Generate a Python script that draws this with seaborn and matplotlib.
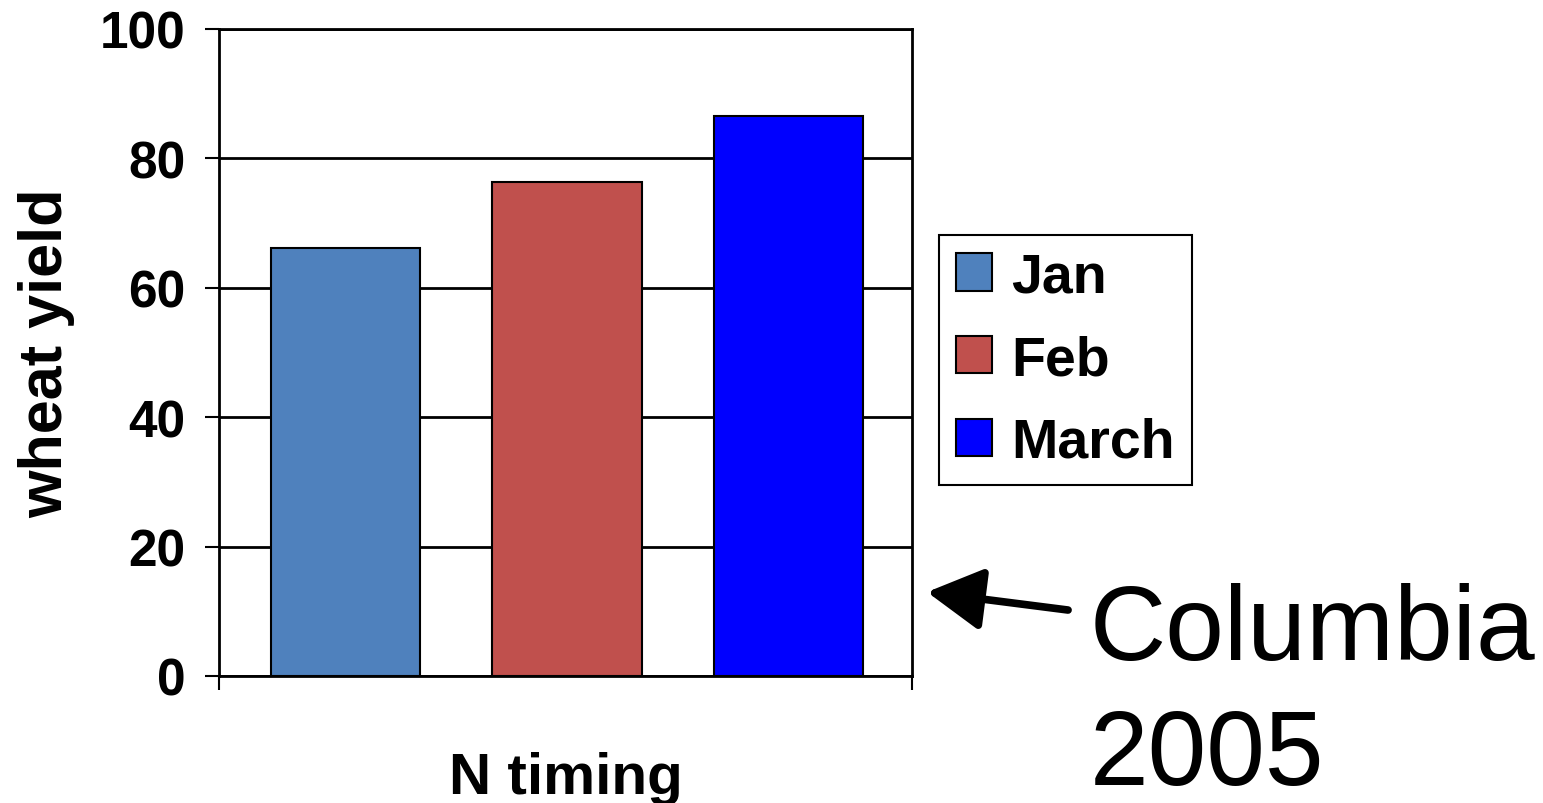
import pandas as pd
import numpy as np
import seaborn as sns
import matplotlib.pyplot as plt

# data
months = ["Jan", "Feb", "March"]
yields = [66.2, 76.3, 86.6]
colors = ["#4F81BD", "#C0504D", "#0000FF"]
yticks = [0, 20, 40, 60, 80, 100]

df = pd.DataFrame({"month": months, "wheat yield": yields})

sns.set_theme(style="white")
plt.rcParams["font.family"] = ["Liberation Sans", "DejaVu Sans"]
plt.rcParams["font.weight"] = "bold"
plt.rcParams["text.color"] = "black"
plt.rcParams["axes.labelcolor"] = "black"
plt.rcParams["xtick.color"] = "black"
plt.rcParams["ytick.color"] = "black"

fig = plt.figure(figsize=(15.43, 8.04), dpi=100)
ax = fig.add_axes([0.1419, 0.158, 0.4492, 0.8047])

sns.barplot(data=df, x="month", y="wheat yield", hue="month",
            palette=colors, saturation=1, width=0.673, edgecolor="black",
            linewidth=1.5, dodge=False, legend=True, ax=ax, zorder=3)

# axes
ax.set_ylim(0, 100)
ax.set_xlim(-0.571, 2.557)
ax.set_yticks(yticks)
ax.set_yticklabels([str(t) for t in yticks], fontsize=37, fontweight="bold")
ax.set_xticks([-0.571, 2.557])
ax.set_xticklabels(["", ""])
ax.tick_params(axis="both", direction="out", length=10, width=1.5, color="black",
               left=True, bottom=True, pad=14)
ax.yaxis.grid(True, color="black", linewidth=2, zorder=0)
ax.set_axisbelow(True)
for s in ax.spines.values():
    s.set_color("black")
    s.set_linewidth(2)
ax.set_ylabel("wheat yield", fontsize=44, fontweight="bold", labelpad=18)
ax.set_xlabel("N timing", fontsize=42, fontweight="bold", labelpad=30)

# legend
sns.move_legend(ax, "upper left", bbox_to_anchor=(1.039, 0.6816), borderaxespad=0,
                title=None, frameon=True, fancybox=False, framealpha=1,
                fontsize=40, handlelength=0.66, handleheight=0.66,
                handletextpad=0.34, labelspacing=0.55, borderpad=0.3)
leg = ax.get_legend()
leg.get_frame().set_edgecolor("black")
leg.get_frame().set_linewidth(1.5)
for t in leg.get_texts():
    t.set_fontweight("bold")
    t.set_color("black")

# annotation
fig.text(0.7064, 0.179, "Columbia", fontsize=76, fontweight="normal",
         va="baseline", color="black")
fig.text(0.7064, 0.0236, "2005", fontsize=76, fontweight="normal",
         va="baseline", color="black")
ax.annotate("", xy=(0.6008, 0.2624), xycoords="figure fraction",
            xytext=(0.6922, 0.2400), textcoords="figure fraction",
            arrowprops=dict(arrowstyle="-|>,head_length=1.7,head_width=0.95",
                            mutation_scale=20, lw=5.5, color="black",
                            shrinkA=0, shrinkB=0))

fig.savefig("out.png", dpi=100)
